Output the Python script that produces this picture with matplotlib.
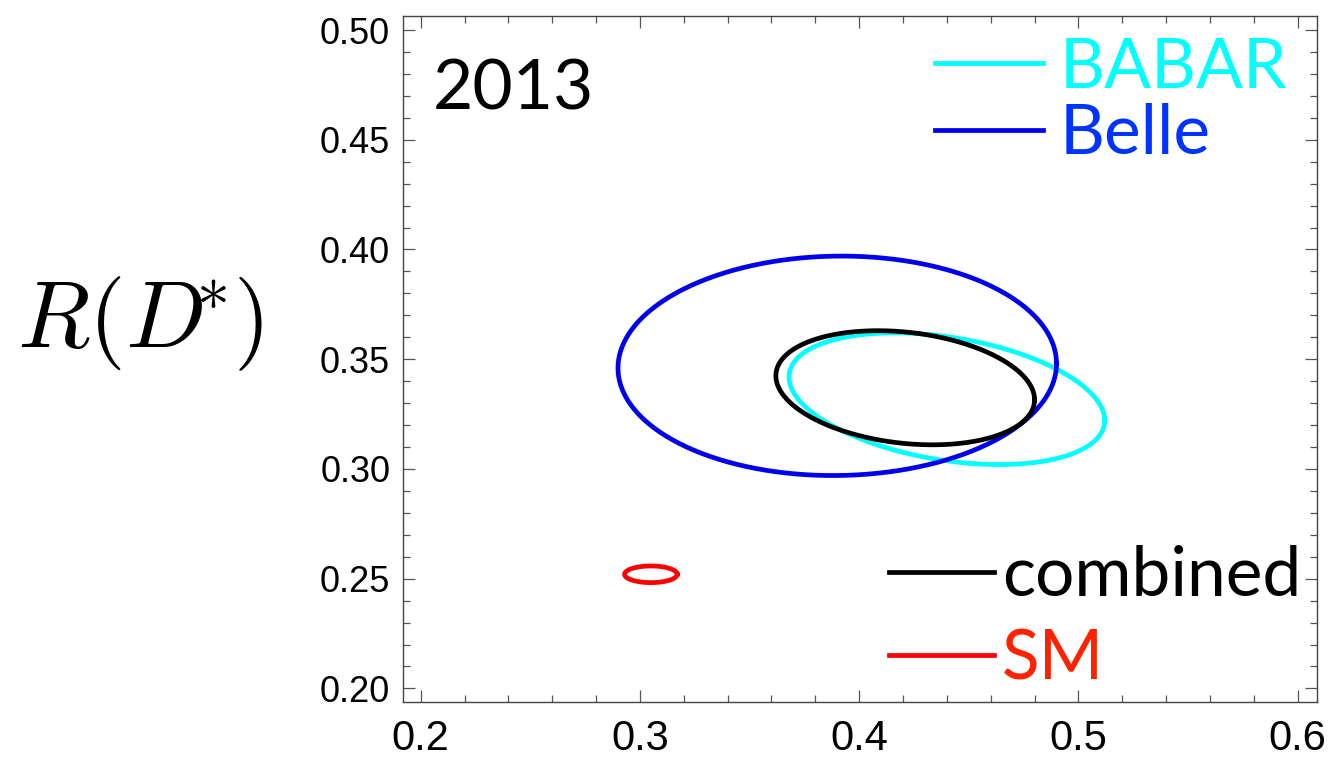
import numpy as np
import matplotlib
matplotlib.use("Agg")
import matplotlib.pyplot as plt
from matplotlib.ticker import MultipleLocator

# 1-sigma contours in the R(D) - R(D*) plane
labels = ["BABAR", "Belle", "combined", "SM"]
r_d = [0.440, 0.390, 0.421, 0.305]
r_dstar = [0.332, 0.347, 0.337, 0.252]
err_d = [0.072, 0.100, 0.059, 0.012]
err_dstar = [0.030, 0.050, 0.026, 0.0038]
corr = [-0.33, 0.02, -0.21, 0.0]

line_colors = ["#00ffff", "#0000ee", "#000000", "#ff0000"]
text_colors = ["#00ffff", "#0033ff", "#000000", "#ff2200"]

xticks = [0.2, 0.3, 0.4, 0.5, 0.6]
yticks = [0.20, 0.25, 0.30, 0.35, 0.40, 0.45, 0.50]

plt.rcParams["mathtext.fontset"] = "cm"

fig = plt.figure(figsize=(13.33, 7.61), dpi=100)
ax = fig.add_axes([0.3021, 0.0775, 0.6857, 0.9015])

t = np.linspace(0, 2 * np.pi, 400)
handles = []
for i in range(len(labels)):
    x = r_d[i] + err_d[i] * np.cos(t)
    y = r_dstar[i] + err_dstar[i] * (corr[i] * np.cos(t) + np.sqrt(1 - corr[i] ** 2) * np.sin(t))
    h, = ax.plot(x, y, color=line_colors[i], lw=3.4, label=labels[i], zorder=2 + i)
    handles.append(h)

ax.set_xlim(0.1918, 0.6087)
ax.set_ylim(0.1938, 0.5064)
ax.set_xticks(xticks)
ax.set_yticks(yticks)
ax.set_xticklabels([f"{v:.1f}" for v in xticks])
ax.set_yticklabels([f"{v:.2f}" for v in yticks])
ax.xaxis.set_minor_locator(MultipleLocator(0.02))
ax.yaxis.set_minor_locator(MultipleLocator(0.01))
ax.tick_params(which="both", direction="in", top=True, right=True, color="#555555", width=0.9)
ax.tick_params(which="major", length=8.6)
ax.tick_params(which="minor", length=5)
ax.tick_params(axis="x", labelsize=30, pad=12)
ax.tick_params(axis="y", labelsize=26, pad=9)
for lab in ax.get_xticklabels() + ax.get_yticklabels():
    lab.set_family("Liberation Sans")
for s in ax.spines.values():
    s.set_color("#444444")
    s.set_linewidth(1.0)

font = "Lato"
leg1 = ax.legend(handles=handles[:2], loc="upper right", bbox_to_anchor=(0.968, 0.97),
                 frameon=False, prop={"family": font, "size": 50}, labelcolor=text_colors[:2],
                 handlelength=1.55, handletextpad=0.25, labelspacing=0.05,
                 borderpad=0, borderaxespad=0)
ax.add_artist(leg1)
ax.legend(handles=handles[2:], loc="lower right", bbox_to_anchor=(0.983, 0.015),
          frameon=False, prop={"family": font, "size": 50}, labelcolor=text_colors[2:],
          handlelength=1.5, handletextpad=0.12, labelspacing=0.3,
          borderpad=0, borderaxespad=0)

ax.text(0.033, 0.863, "2013", transform=ax.transAxes, family=font, fontsize=50,
        va="baseline", ha="left")

fig.text(0.013, 1 - 347 / 761, r"$R(D^{\!\!\!\ast}\!)$", fontsize=68, ha="left", va="baseline")

fig.savefig("out.png", dpi=100)
